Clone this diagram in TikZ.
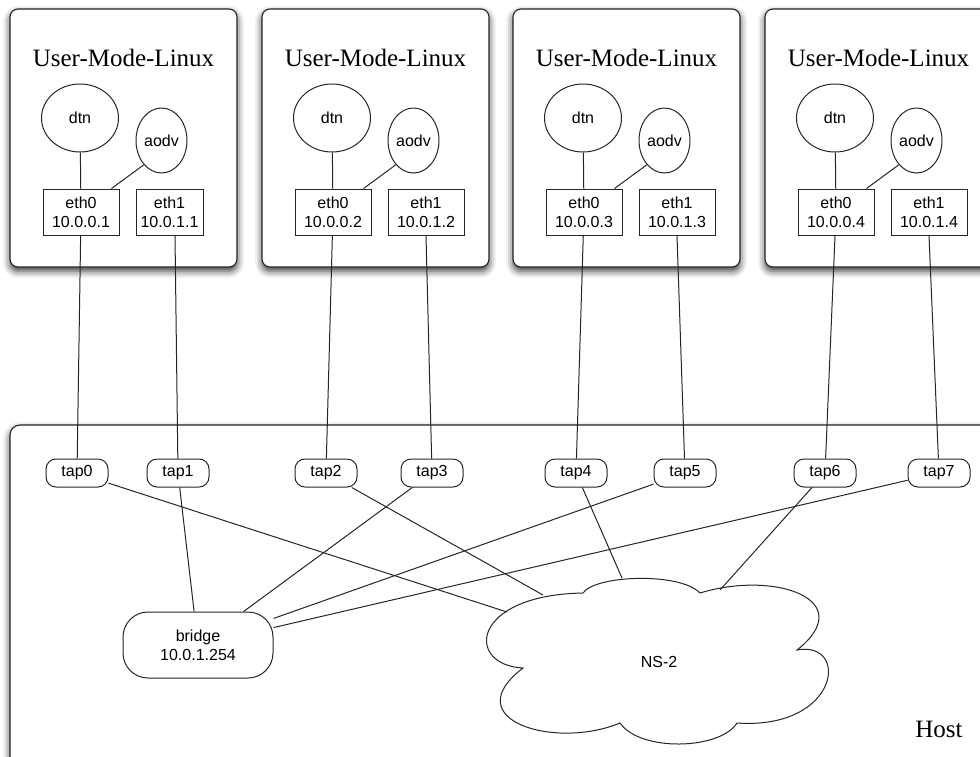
\documentclass[tikz,border=0pt]{standalone}
\usepackage{fontspec}
\setmainfont{Liberation Serif}
\newfontfamily\labelfont{Liberation Sans}
\usetikzlibrary{shapes.geometric,shadows.blur,calc}

\begin{document}
\begin{tikzpicture}[x=1pt,y=-1pt,
  link/.style={draw=black!85, line width=1pt},
  frame/.style={draw=black!85, line width=1.1pt, fill=white,
    blur shadow={shadow xshift=0pt, shadow yshift=-4pt,
                 shadow blur radius=7pt, shadow opacity=80}},
  heading/.style={font=\fontsize{25}{29}\selectfont, inner sep=0pt},
  small/.style={font=\labelfont\fontsize{16}{19}\selectfont},
  proc/.style={ellipse, draw=black!85, line width=1pt, fill=white,
    inner sep=0pt, small},
  iface/.style={rectangle, draw=black!85, line width=1pt, fill=white,
    minimum height=46pt, inner sep=0pt, align=center, small},
  tapbox/.style={rectangle, rounded corners=10pt, draw=black!85,
    line width=1pt, fill=white, minimum width=62pt, minimum height=28pt,
    inner sep=0pt, small},
  bridgebox/.style={rectangle, rounded corners=25pt, draw=black!85,
    line width=1pt, fill=white, minimum width=150pt, minimum height=66pt,
    inner sep=0pt, align=center, small},
]
\useasboundingbox (0,0) rectangle (980,756);
\clip (0,0) rectangle (980,756);

% host frame
\path[frame, rounded corners=10pt] (10,425) rectangle (1000,800);
\node[heading] (host) at (939,729) {Host};

% tap devices on the host
\foreach \n/\x in {0/77,1/178,2/326,3/432,4/576,5/685,6/825,7/939}
  \node[tapbox] (t\n) at (\x,473) {tap\n};

% bridge
\node[bridgebox] (br) at (198,645) {bridge\\10.0.1.254};

% NS-2 cloud
\draw[link, fill=white] (523,668)
  .. controls (465,665) and (470,595) .. (583,593)
  .. controls (595,575) and (680,572) .. (700,593)
  .. controls (775,570) and (860,600) .. (797,650)
  .. controls (850,640) and (840,730) .. (737,723)
  .. controls (720,750) and (640,752) .. (620,723)
  .. controls (555,750) and (455,720) .. (523,668) -- cycle;
\node[small] (ns) at (659,662) {NS-2};
\coordinate (ns-w)  at (507,612);
\coordinate (ns-nw) at (543,595);
\coordinate (ns-n)  at (622,578);
\coordinate (ns-ne) at (720,590);

% the four UML guests
\foreach \i/\ox/\wb/\sh in {1/10/67/5.5, 2/262/76/0, 3/513/76/0, 4/765/76/0} {
  \pgfmathtruncatemacro\ta{2*\i-2}
  \pgfmathtruncatemacro\tb{2*\i-1}
  \path[frame, rounded corners=8pt] (\ox,9) rectangle ++(227,258);
  \node[heading] (u\i) at (\ox+113.5,58) {User-Mode-Linux};
  \node[proc, minimum width=77pt, minimum height=68pt] (d\i) at (\ox+70,118) {dtn};
  \node[proc, minimum width=51pt, minimum height=65pt] (a\i) at (\ox+151.5,140.5) {aodv};
  \node[iface, minimum width=76pt] (e0\i) at (\ox+71,212) {eth0\\10.0.0.\i};
  \node[iface, minimum width=\wb pt] (e1\i) at (\ox+126+\wb/2,212) {eth1\\10.0.1.\i};
  \draw[link] (d\i) -- (e0\i);
  \draw[link] (a\i.234) -- ([xshift=-8pt]e0\i.north east);
  \draw[link] (e0\i) -- (t\ta);
  \draw[link] ([xshift=\sh pt]e1\i.south) -- (t\tb);
}

% host side links
\draw[link] (t1) -- (br);
\draw[link] (t3) -- (br);
\draw[link] (t5) -- (br);
\draw[link] (t7) -- (br);
\draw[link] (t0) -- (ns-w);
\draw[link] (t2) -- (ns-nw);
\draw[link] (t4) -- (ns-n);
\draw[link] (t6) -- (ns-ne);
\end{tikzpicture}
\end{document}
